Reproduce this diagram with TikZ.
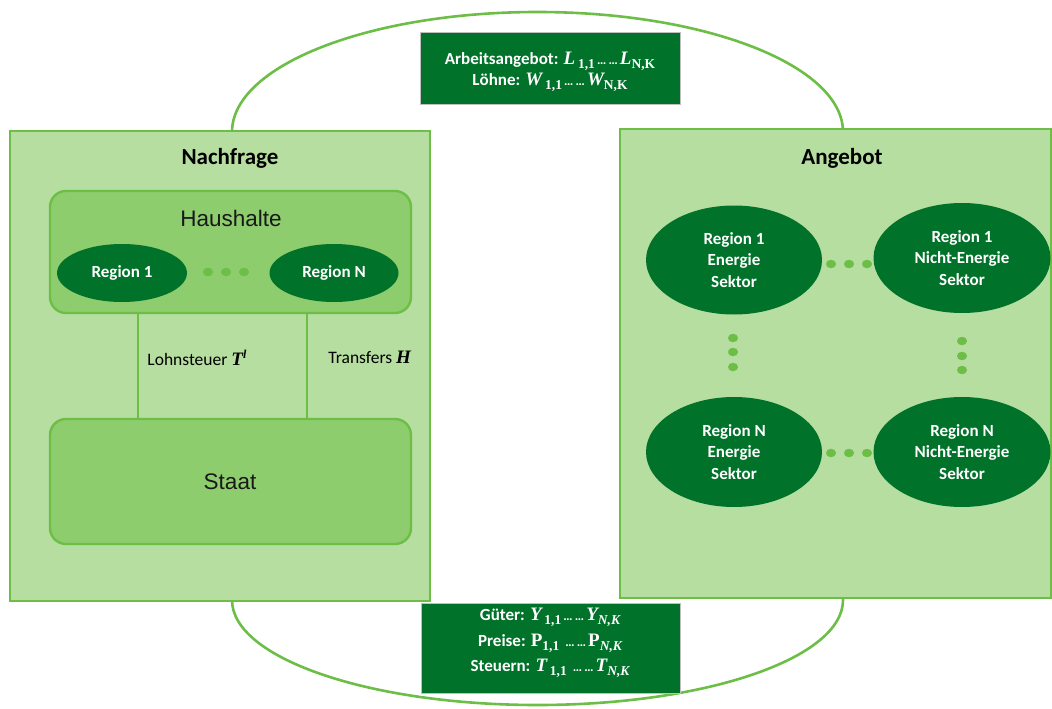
\documentclass[tikz,border=0pt]{standalone}
\usepackage{fontspec}
\setmainfont{Carlito}
\newfontfamily\arialf{Liberation Sans}
\newfontfamily\serf{Liberation Serif}
\usetikzlibrary{shapes.geometric}
\definecolor{dkgreen}{RGB}{0,114,41}
\definecolor{ltgreen}{RGB}{182,222,160}
\definecolor{midgreen}{RGB}{142,205,110}
\definecolor{bdgreen}{RGB}{108,190,70}
\definecolor{txtdark}{RGB}{25,25,25}
\newcommand\mvar[1]{{\fontsize{19}{19}\selectfont\serf\bfseries\itshape #1}}
\newcommand\mupr[1]{{\fontsize{19}{19}\selectfont\serf\bfseries #1}}
\newcommand\sbx[1]{\raisebox{-0.45ex}{\fontsize{13.5}{13.5}\selectfont\serf\bfseries #1}}
\newcommand\sbi[1]{\raisebox{-0.45ex}{\fontsize{13.5}{13.5}\selectfont\serf\bfseries\itshape #1}}
\newcommand\ddd{{\fontsize{13}{13}\selectfont\,…\,…\,}}
\tikzset{
  x=1pt,y=-1pt,
  panel/.style={draw=bdgreen,line width=2.6pt,fill=ltgreen,inner sep=0pt},
  inner/.style={draw=bdgreen,line width=2.4pt,fill=midgreen,rounded corners=16pt,inner sep=0pt,
     minimum width=361pt},
  darkell/.style={ellipse,fill=dkgreen,inner sep=0pt,text=white,
     font=\fontsize{17}{21.5}\selectfont\bfseries,align=center},
  infobox/.style={fill=dkgreen,draw=black!25,line width=0.6pt,inner sep=0pt,text=white,
     font=\fontsize{17}{21}\selectfont\bfseries,align=center},
  dot/.style={ellipse,fill=bdgreen,inner sep=0pt,minimum width=10pt,minimum height=8.5pt},
  loopline/.style={draw=bdgreen,line width=2.6pt},
  conn/.style={draw=bdgreen,line width=2.2pt},
  title/.style={font=\fontsize{23}{23}\selectfont\bfseries,text=black},
  connlabel/.style={anchor=west,text=black,font=\fontsize{17.5}{17.5}\selectfont},
}
\begin{document}
\begin{tikzpicture}
\useasboundingbox (0,0) rectangle (1052,709);
% loop
\coordinate (lt) at (232,132);
\coordinate (rb) at (843,600);
\draw[loopline] (232,600) -- (lt) arc[start angle=180,end angle=360,x radius=305.5,y radius=120]
  -- (rb) arc[start angle=0,end angle=180,x radius=305.5,y radius=105] -- cycle;
% panels
\node[panel,minimum width=420pt,minimum height=470pt] (nach) at (220,366) {};
\node[panel,minimum width=431pt,minimum height=469pt] (ange) at (835.5,363.5) {};
\node[title] (nachT) at (230,158) {Nachfrage};
\node[title] (angeT) at (842,158) {Angebot};
% Haushalte
\node[inner,minimum height=122pt] (haus) at (230.5,252) {};
\node[font=\arialf\fontsize{22.5}{22.5}\selectfont,text=txtdark] (hausT) at (231,218) {Haushalte};
\node[darkell,minimum width=130pt,minimum height=58pt] (hr1) at (122,273) {Region 1};
\node[darkell,minimum width=129pt,minimum height=58pt] (hrn) at (334,273) {Region N};
\node[dot] (hd1) at (208,272) {};
\node[dot] (hd2) at (226,272) {};
\node[dot] (hd3) at (244,272) {};
% Staat
\node[inner,minimum height=125pt] (staat) at (230.5,481.5) {};
\node[font=\arialf\fontsize{22.5}{22.5}\selectfont,text=txtdark] (staatT) at (230,482) {Staat};
% connectors
\coordinate (c1) at (138,0);
\coordinate (c2) at (307,0);
\draw[conn] (haus.south -| c1) -- node[pos=0.42,connlabel,xshift=5pt]
   {Lohnsteuer \mvar{T}\raisebox{0.9ex}{\fontsize{12}{12}\selectfont\serf\bfseries\itshape l}} (staat.north -| c1);
\draw[conn] (haus.south -| c2) -- node[pos=0.42,connlabel,xshift=17pt]
   {Transfers \mvar{H}} (staat.north -| c2);
% Angebot ellipses
\node[darkell,minimum width=176pt,minimum height=109pt] (e11) at (734,260) {Region 1\\Energie\\Sektor};
\node[darkell,minimum width=177pt,minimum height=110pt] (e12) at (962,258) {Region 1\\Nicht-Energie\\Sektor};
\node[darkell,minimum width=176pt,minimum height=110pt] (e21) at (734,452) {Region N\\Energie\\Sektor};
\node[darkell,minimum width=177pt,minimum height=110pt] (e22) at (962,452) {Region N\\Nicht-Energie\\Sektor};
\foreach \xx/\nm in {831/a,849/b,867/c}{
  \node[dot] (ht\nm) at (\xx,264) {};
  \node[dot] (hb\nm) at (\xx,453) {};
}
\foreach \yy/\nm in {338/a,352/b,367/c}{
  \node[dot] (vl\nm) at (733,\yy) {};
}
\foreach \yy/\nm in {341/a,356/b,370/c}{
  \node[dot] (vr\nm) at (962,\yy) {};
}
% info boxes
\node[infobox,minimum width=260pt,minimum height=72pt] (topbox) at (550,68) {};
\node[text=white,font=\fontsize{17}{21}\selectfont\bfseries,align=center] (topT) at (550,72)
  {Arbeitsangebot: \mvar{L}\,\sbx{1,1}\ddd\mvar{L}\sbx{N,K}\\
   Löhne: \mvar{W}\,\sbx{1,1}\ddd\mvar{W}\sbx{N,K}};
\node[infobox,minimum width=259pt,minimum height=90pt] (botbox) at (550.5,648) {};
\node[text=white,font=\fontsize{17}{25.5}\selectfont\bfseries,align=center] (botT) at (550,643)
  {Güter: \mvar{Y}\,\sbx{1,1}\ddd\mvar{Y}\sbi{N,K}\\
   Preise: \mupr{P}\sbx{1,1}\ \ddd\mupr{P}\sbi{N,K}\\
   Steuern: \mvar{T}\,\sbx{1,1}\ \ddd\mvar{T}\sbi{N,K}};
\end{tikzpicture}
\end{document}
